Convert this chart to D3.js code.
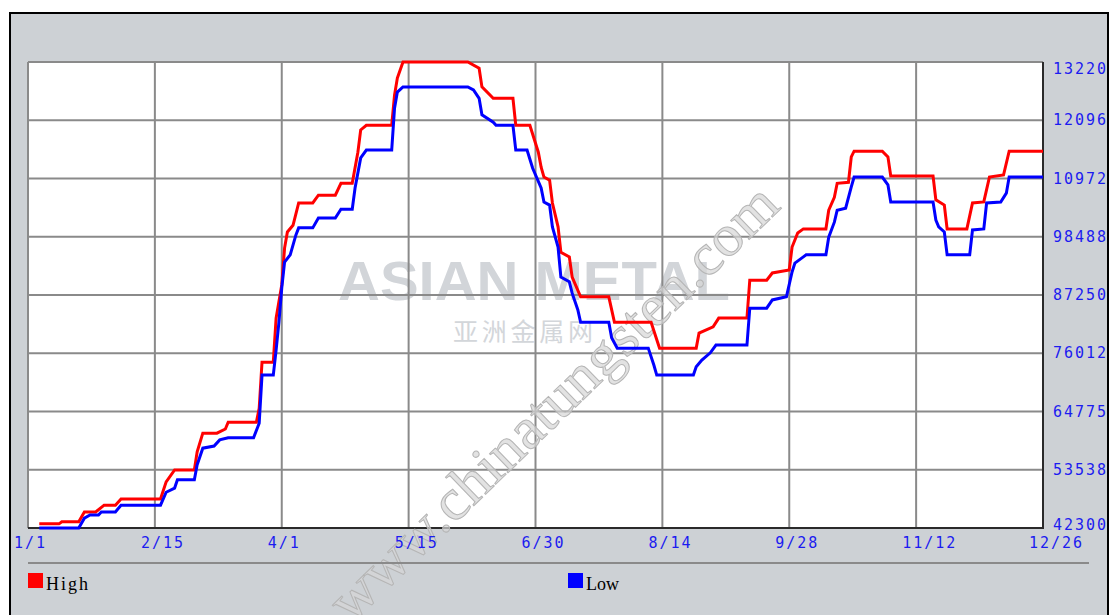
<!DOCTYPE html>
<html>
<head>
<meta charset="utf-8">
<script src="https://cdn.jsdelivr.net/npm/d3@7"></script>
<style>
  html, body { margin: 0; padding: 0; background: #fff; }
  svg { display: block; }
</style>
</head>
<body>
<div id="chart"></div>
<script>
// Day of year (0 = 1/1) and price for the two series
const highDays = [4,11,12,18,20,24,27,31,33,47,49,52,59,60,62,67,70,71,81,82,83,87,88,90,91,92,94,96,101,103,109,111,115,117,118,120,129,130,131,133,156,160,161,165,172,173,178,181,182,183,185,186,188,189,192,193,196,206,208,221,224,237,238,243,245,255,256,262,264,270,271,273,275,283,284,286,287,291,292,293,303,305,306,321,322,325,326,333,335,339,341,346,348,360];
const highValues = [43100,43100,43500,43500,45400,45400,46700,46700,47900,47900,51200,53500,53500,57000,60600,60600,61400,62700,62700,65400,74300,74300,82800,89200,96300,99400,100700,105000,105000,106500,106500,108800,108800,114800,119100,120000,120000,125800,129100,132200,132200,131000,127400,125200,125200,120000,120000,114800,111900,110000,109400,105000,100400,95500,94600,90700,86900,86900,82000,82000,77000,77000,79900,81100,82800,82800,90100,90100,91500,92100,96500,99200,100000,100000,103600,106100,108800,109000,113900,115000,115000,113900,110200,110200,105600,104600,100000,100000,105000,105200,110000,110400,115000,115000];

const lowDays = [4,18,20,22,25,26,31,33,47,49,52,53,59,60,62,66,68,71,80,82,83,87,88,89,90,91,93,95,96,101,103,109,111,115,116,118,120,129,130,131,133,156,158,160,161,165,166,172,173,177,179,182,183,185,186,188,189,192,193,195,196,206,207,209,220,222,223,236,237,239,242,244,255,256,262,264,269,271,272,275,276,283,284,286,287,290,292,293,303,305,306,321,322,323,325,326,334,335,339,340,345,347,348,360];
const lowValues = [42300,42300,44200,44800,44800,45400,45400,46700,46700,49200,50000,51600,51600,54500,57700,58100,59300,59700,59700,62500,71800,71800,76600,82000,88600,93600,95000,98800,100200,100200,102100,102100,103800,103800,107900,113700,115200,115200,123300,126400,127400,127400,126800,125200,122000,120600,120000,120000,115200,115200,111700,107900,105200,104600,100400,96500,90700,89800,87600,84400,82000,82000,79000,77000,77000,73700,71800,71800,73400,74700,76100,77600,77600,84700,84700,86300,86900,91700,93400,94600,95000,95000,98400,101300,103600,104000,108100,110000,110000,108500,105200,105200,101700,100400,99400,95000,95000,99800,100000,105000,105200,106900,110000,110000];

const xTickDays = [0, 45, 90, 135, 180, 225, 270, 315, 360];
const xTickLabels = ['1/1', '2/15', '4/1', '5/15', '6/30', '8/14', '9/28', '11/12', '12/26'];
const yTickValues = [42300, 53538, 64775, 76012, 87250, 98488, 109725, 120962, 132200];

const legendItems = [
    { name: 'High', color: '#ff0000' },
    { name: 'Low', color: '#0000ff' }
];

// Layout
const width = 1117;
const height = 615;
const plot = { left: 28, right: 1043, top: 62, bottom: 528 };
const bgGray = '#cdd1d5';
const gridGray = '#8a8a8a';
const labelBlue = '#1c1cf0';
const monoFont = '"DejaVu Sans Mono", "Liberation Mono", monospace';

const svg = d3.select('#chart').append('svg')
    .attr('width', width)
    .attr('height', height);

// Outer panel
svg.append('rect')
    .attr('x', 10).attr('y', 13)
    .attr('width', 1098).attr('height', 615)
    .attr('fill', bgGray)
    .attr('stroke', '#000')
    .attr('stroke-width', 2);

// Scales
const x = d3.scaleLinear().domain([0, 360]).range([plot.left, plot.right]);
const y = d3.scaleLinear().domain([42300, 132200]).range([plot.bottom, plot.top]);

// Plot background
svg.append('rect')
    .attr('x', plot.left).attr('y', plot.top)
    .attr('width', plot.right - plot.left).attr('height', plot.bottom - plot.top)
    .attr('fill', '#fff');

// Asian Metal watermark (behind grid)
svg.append('text')
    .attr('x', 338).attr('y', 300)
    .attr('textLength', 392)
    .attr('lengthAdjust', 'spacingAndGlyphs')
    .style('font-family', 'Liberation Sans, Arial, sans-serif')
    .style('font-weight', 'bold')
    .style('font-size', '56px')
    .attr('fill', '#d2d5d9')
    .text('ASIAN METAL');

svg.append('text')
    .attr('x', 453).attr('y', 341)
    .attr('textLength', 140)
    .attr('lengthAdjust', 'spacing')
    .style('font-family', '"Noto Sans CJK SC", sans-serif')
    .style('font-size', '25px')
    .attr('fill', '#d3d6da')
    .text('亚洲金属网');

// Grid
const grid = svg.append('g');
grid.selectAll('.vgrid')
    .data(xTickDays)
    .enter().append('line')
    .attr('x1', d => x(d)).attr('x2', d => x(d))
    .attr('y1', plot.top).attr('y2', plot.bottom)
    .attr('stroke', gridGray)
    .attr('stroke-width', 2);

grid.selectAll('.hgrid')
    .data(yTickValues)
    .enter().append('line')
    .attr('x1', plot.left).attr('x2', plot.right)
    .attr('y1', d => y(d)).attr('y2', d => y(d))
    .attr('stroke', gridGray)
    .attr('stroke-width', 2);

// Dark right and bottom edge of the plot
svg.append('path')
    .attr('d', `M${plot.right},${plot.top}V${plot.bottom}H${plot.left}`)
    .attr('fill', 'none')
    .attr('stroke', '#2a2a2a')
    .attr('stroke-width', 2);

// Diagonal site watermark
svg.append('text')
    .attr('transform', 'translate(553,402) rotate(-44)')
    .attr('text-anchor', 'middle')
    .attr('dominant-baseline', 'central')
    .attr('textLength', 600)
    .attr('lengthAdjust', 'spacingAndGlyphs')
    .style('font-family', '"Liberation Serif", "DejaVu Serif", serif')
    .style('font-size', '58px')
    .attr('fill', '#d6d6d6')
    .attr('fill-opacity', 0.7)
    .attr('stroke', '#b5b5b5')
    .attr('stroke-width', 1)
    .text('www.chinatungsten.com');

// Series lines
const line = d3.line()
    .x(d => x(d[0]))
    .y(d => y(d[1]));

const series = [
    { days: highDays, values: highValues, color: legendItems[0].color },
    { days: lowDays, values: lowValues, color: legendItems[1].color }
];

series.forEach(s => {
    svg.append('path')
        .datum(d3.zip(s.days, s.values))
        .attr('d', line)
        .attr('fill', 'none')
        .attr('stroke', s.color)
        .attr('stroke-width', 3)
        .attr('stroke-linejoin', 'miter');
});

// X axis labels
svg.selectAll('.xlabel')
    .data(xTickDays)
    .enter().append('text')
    .attr('x', d => x(d) - 14)
    .attr('y', 548)
    .style('font-family', monoFont)
    .style('font-size', '15px')
    .style('letter-spacing', '2px')
    .attr('fill', labelBlue)
    .text((d, i) => xTickLabels[i]);

// Y axis labels (right side)
svg.selectAll('.ylabel')
    .data(yTickValues)
    .enter().append('text')
    .attr('x', 1053)
    .attr('y', d => Math.max(74, Math.min(530, y(d) + 5)))
    .style('font-family', monoFont)
    .style('font-size', '15px')
    .style('letter-spacing', '2px')
    .attr('fill', labelBlue)
    .text(d => d);

// Cover overflow past the right border, then redraw the border
svg.append('rect')
    .attr('x', 1109).attr('y', 0)
    .attr('width', 10).attr('height', height)
    .attr('fill', '#fff');
svg.append('line')
    .attr('x1', 1108).attr('x2', 1108)
    .attr('y1', 12).attr('y2', height)
    .attr('stroke', '#000')
    .attr('stroke-width', 2);

// Legend
svg.append('line')
    .attr('x1', 28).attr('x2', 1089)
    .attr('y1', 563).attr('y2', 563)
    .attr('stroke', gridGray)
    .attr('stroke-width', 2);

const legendX = [28, 568];
const legend = svg.selectAll('.legend')
    .data(legendItems)
    .enter().append('g')
    .attr('transform', (d, i) => `translate(${legendX[i]},573)`);

legend.append('rect')
    .attr('width', 15).attr('height', 15)
    .attr('fill', d => d.color);

legend.append('text')
    .attr('x', 18).attr('y', 17)
    .style('font-family', '"Liberation Serif", "DejaVu Serif", serif')
    .style('font-size', '18px')
    .style('letter-spacing', (d, i) => i === 0 ? '2px' : '0px')
    .attr('fill', '#000')
    .text(d => d.name);
</script>
</body>
</html>
